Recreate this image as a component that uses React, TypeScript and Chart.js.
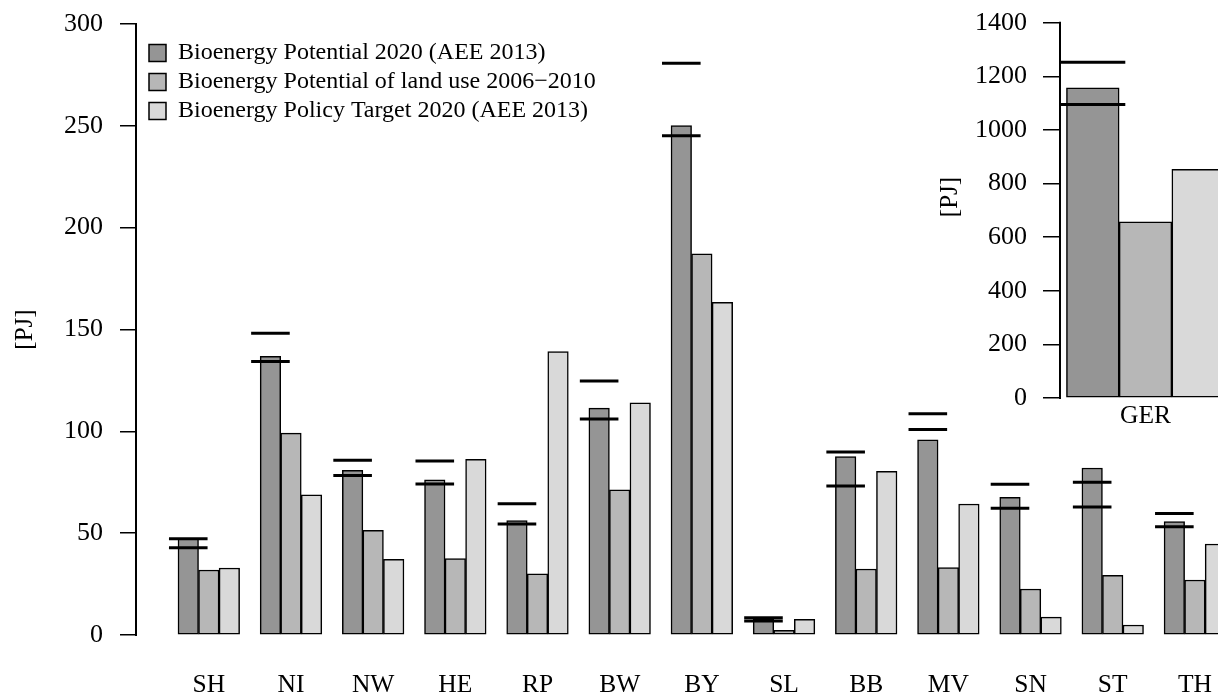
import React, { useEffect, useRef } from 'react';
import { Chart, registerables } from 'chart.js';

Chart.register(...registerables);

// ---------- data ----------
const CATEGORIES = ['SH', 'NI', 'NW', 'HE', 'RP', 'BW', 'BY', 'SL', 'BB', 'MV', 'SN', 'ST', 'TH'];
const POTENTIAL_2020 = [47.5, 136.8, 80.9, 76.2, 56.2, 111.4, 250.1, 7.7, 87.6, 95.8, 67.6, 82.0, 55.7];
const LAND_USE_2006_2010 = [31.9, 99.1, 51.4, 37.5, 30.0, 71.3, 187.1, 2.3, 32.4, 33.1, 22.6, 29.3, 27.0];
const POLICY_TARGET_2020 = [32.9, 68.8, 37.2, 86.3, 139.1, 114.0, 163.3, 7.7, 80.4, 64.3, 8.8, 4.9, 44.7];
const RANGE_HIGH = [47.3, 148.2, 85.8, 85.4, 64.4, 124.7, 280.7, 8.5, 89.9, 108.6, 74.0, 75.0, 59.6];
const RANGE_LOW = [42.9, 134.3, 78.3, 74.1, 54.5, 106.1, 245.1, 6.9, 73.2, 100.9, 62.2, 62.9, 53.2];

const GER_CATEGORIES = ['GER'];
const GER_POTENTIAL_2020 = [1157];
const GER_LAND_USE_2006_2010 = [657];
const GER_POLICY_TARGET_2020 = [853];
const GER_RANGE_HIGH = [1253];
const GER_RANGE_LOW = [1095];

const SERIES_LABELS = [
  'Bioenergy Potential 2020 (AEE 2013)',
  'Bioenergy Potential of land use 2006\u22122010',
  'Bioenergy Policy Target 2020 (AEE 2013)',
];
const Y_TITLE = '[PJ]';
const MAIN_Y_MAX = 300;
const MAIN_Y_STEP = 50;
const GER_Y_MAX = 1500;
const GER_Y_STEP = 200;

// ---------- styles ----------
const FONT_FAMILY = "'Liberation Serif', 'Times New Roman', serif";
const TICK_FONT = { family: FONT_FAMILY, size: 26 };
const CAT_FONT = { family: FONT_FAMILY, size: 25.5 };
const TITLE_FONT = { family: FONT_FAMILY, size: 25 };
const LEGEND_FONT = { family: FONT_FAMILY, size: 24 };
const COLORS = ['#959595', '#B7B7B7', '#D9D9D9'];

Chart.defaults.font.family = FONT_FAMILY;
Chart.defaults.color = '#000';

const rangeMarks = {
  id: 'rangeMarks',
  afterDatasetsDraw(chart: any, _args: any, opts: any) {
    const meta = chart.getDatasetMeta(0);
    const y = chart.scales.y;
    const ctx = chart.ctx;
    ctx.save();
    ctx.strokeStyle = '#000';
    ctx.lineWidth = opts.lineWidth;
    ctx.lineCap = 'butt';
    meta.data.forEach((bar: any, i: number) => {
      [opts.low[i], opts.high[i]].forEach((v: number) => {
        const py = y.getPixelForValue(v);
        ctx.beginPath();
        ctx.moveTo(bar.x - opts.halfWidth, py);
        ctx.lineTo(bar.x + opts.halfWidth, py);
        ctx.stroke();
      });
    });
    ctx.restore();
  },
};

const axisSpan = {
  id: 'axisSpan',
  afterDraw(chart: any, _args: any, opts: any) {
    const s = chart.scales.y;
    const t = s.ticks;
    if (!t.length) return;
    const ctx = chart.ctx;
    ctx.save();
    ctx.strokeStyle = '#000';
    ctx.lineWidth = opts.lineWidth;
    ctx.lineCap = 'square';
    ctx.beginPath();
    ctx.moveTo(s.right, s.getPixelForValue(t[0].value));
    ctx.lineTo(s.right, s.getPixelForValue(t[t.length - 1].value));
    ctx.stroke();
    ctx.restore();
  },
};

const legendShift = {
  id: 'legendShift',
  afterLayout(chart: any, _args: any, opts: any) {
    const lg = chart.legend;
    if (!lg || !opts || opts.dx === undefined) return;
    lg.left = chart.chartArea.left + opts.dx;
    lg.top = chart.chartArea.top + opts.dy;
    lg.right = chart.chartArea.right;
    lg.bottom = chart.chartArea.bottom;
  },
};

function makeDatasets(series: number[][], thickness: number) {
  return series.map((vals, k) => ({
    label: SERIES_LABELS[k],
    data: vals.map((v, i) => ({ x: i, y: v })),
    backgroundColor: COLORS[k],
    borderColor: '#000',
    borderWidth: 1.5,
    borderSkipped: false,
    barThickness: thickness,
  }));
}

function zeroPad(s: any) {
  s.paddingTop = 0;
  s.paddingBottom = 0;
  s.paddingLeft = 0;
  s.paddingRight = 0;
}

function yScale(max: number, step: number, width: number, tickLen: number, pad: number, titlePad: number) {
  return {
    type: 'linear',
    min: 0,
    max,
    afterFit: (s: any) => {
      s.width = width;
      zeroPad(s);
    },
    ticks: {
      stepSize: step,
      includeBounds: false,
      font: TICK_FONT,
      color: '#000',
      padding: pad,
      callback: (v: any) => String(v),
    },
    grid: {
      display: true,
      drawOnChartArea: false,
      drawTicks: true,
      tickLength: tickLen,
      color: '#000',
      lineWidth: 1.5,
    },
    border: { display: false },
    title: {
      display: true,
      text: Y_TITLE,
      font: TITLE_FONT,
      color: '#000',
      padding: { top: titlePad, bottom: 0 },
    },
  };
}

function xScale(labels: string[], min: number, max: number, height: number, pad: number) {
  return {
    type: 'linear',
    min,
    max,
    offset: false,
    afterFit: (s: any) => {
      s.height = height;
      zeroPad(s);
    },
    afterBuildTicks: (s: any) => {
      s.ticks = labels.map((_, i) => ({ value: i }));
    },
    ticks: {
      autoSkip: false,
      maxRotation: 0,
      minRotation: 0,
      font: CAT_FONT,
      color: '#000',
      padding: pad,
      callback: (v: any) => labels[v] ?? '',
    },
    grid: { display: false, drawTicks: false },
    border: { display: false },
  };
}

export default function App() {
  const mainRef = useRef<HTMLCanvasElement>(null);
  const gerRef = useRef<HTMLCanvasElement>(null);

  useEffect(() => {
    const main = new Chart(mainRef.current as HTMLCanvasElement, {
      type: 'bar',
      data: {
        datasets: makeDatasets([POTENTIAL_2020, LAND_USE_2006_2010, POLICY_TARGET_2020], 20.54) as any,
      },
      plugins: [rangeMarks, axisSpan, legendShift],
      options: {
        responsive: false,
        devicePixelRatio: 1,
        animation: false,
        events: [],
        layout: { padding: { top: 24, left: 0, right: 0, bottom: 0 } },
        scales: {
          x: xScale(CATEGORIES, -0.886, 12.549, 62, 35) as any,
          y: yScale(MAIN_Y_MAX, MAIN_Y_STEP, 136, 16, 17, 10) as any,
        },
        plugins: {
          legend: {
            display: true,
            position: 'chartArea',
            align: 'start',
            labels: {
              font: LEGEND_FONT,
              color: '#000',
              boxWidth: 17,
              boxHeight: 17,
              padding: 5,
            },
          },
          tooltip: { enabled: false },
          rangeMarks: { low: RANGE_LOW, high: RANGE_HIGH, halfWidth: 19.3, lineWidth: 3 },
          axisSpan: { lineWidth: 2 },
          legendShift: { dx: 8, dy: 12 },
        } as any,
      },
    });

    const ger = new Chart(gerRef.current as HTMLCanvasElement, {
      type: 'bar',
      data: {
        datasets: makeDatasets([GER_POTENTIAL_2020, GER_LAND_USE_2006_2010, GER_POLICY_TARGET_2020], 52.7) as any,
      },
      plugins: [rangeMarks, axisSpan],
      options: {
        responsive: false,
        devicePixelRatio: 1,
        animation: false,
        events: [],
        layout: { padding: { top: 16, left: 0, right: 0, bottom: 0 } },
        scales: {
          x: xScale(GER_CATEGORIES, -0.5, 0.5, 42, 3) as any,
          y: yScale(GER_Y_MAX, GER_Y_STEP, 160, 17, 16, 35) as any,
        },
        plugins: {
          legend: { display: false },
          tooltip: { enabled: false },
          rangeMarks: { low: GER_RANGE_LOW, high: GER_RANGE_HIGH, halfWidth: 32.5, lineWidth: 3 },
          axisSpan: { lineWidth: 2 },
        } as any,
      },
    });

    return () => {
      main.destroy();
      ger.destroy();
    };
  }, []);

  return (
    <div
      style={{
        position: 'fixed',
        left: 0,
        top: 0,
        width: 1218,
        height: 697,
        overflow: 'hidden',
        background: '#fff',
      }}
    >
      <canvas
        ref={mainRef}
        width={1240}
        height={697}
        style={{ position: 'absolute', left: 0, top: 0, width: 1240, height: 697 }}
      />
      <canvas
        ref={gerRef}
        width={331}
        height={460}
        style={{ position: 'absolute', left: 900, top: -20, width: 331, height: 460 }}
      />
    </div>
  );
}
